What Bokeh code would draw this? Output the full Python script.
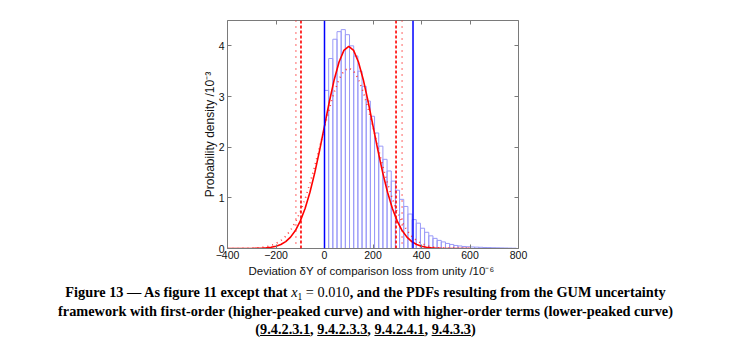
from bokeh.plotting import figure
from bokeh.models import LinearAxis, Span, Div, FixedTicker, CustomLabelingPolicy
from bokeh.layouts import column
from bokeh.embed import file_html
from bokeh.resources import INLINE

# ---------------- data ----------------
# Monte Carlo histogram (probability density /10^-3), bins starting at 0
hist_start = 0.0
hist_width = 17.2
hist_density = [3.12, 3.75, 4.13, 4.28, 4.32, 4.22, 4.00, 3.80, 3.50, 3.20,
                2.91, 2.61, 2.28, 2.02, 1.76, 1.53, 1.33, 1.15, 0.97, 0.83,
                0.68, 0.57, 0.50, 0.40, 0.32, 0.25, 0.20, 0.16, 0.13, 0.10,
                0.08, 0.06, 0.05, 0.04, 0.035, 0.03, 0.027, 0.024, 0.02, 0.018,
                0.016, 0.014, 0.012, 0.01, 0.008, 0.006]

# GUM curves
curve_x = [-400, -380, -360, -340, -320, -300, -280, -260, -240, -220,
           -200, -180, -160, -140, -120, -100, -80, -60, -40, -20,
           0, 20, 40, 60, 80, 100, 120, 140, 160, 180,
           200, 220, 240, 260, 280, 300, 320, 340, 360, 380,
           400, 420, 440, 460, 480, 500, 520, 540, 560, 580, 600]
gum_first_order = [0.000, 0.000, 0.000, 0.000, 0.001, 0.001, 0.003, 0.006, 0.012, 0.024,
                   0.044, 0.079, 0.136, 0.224, 0.355, 0.540, 0.790, 1.109, 1.497, 1.942,
                   2.420, 2.897, 3.332, 3.682, 3.910, 3.989, 3.910, 3.682, 3.332, 2.897,
                   2.420, 1.942, 1.497, 1.109, 0.790, 0.540, 0.355, 0.224, 0.136, 0.079,
                   0.044, 0.024, 0.012, 0.006, 0.003, 0.001, 0.001, 0.000, 0.000, 0.000, 0.000]
gum_higher_order = [0.000, 0.000, 0.001, 0.002, 0.003, 0.006, 0.011, 0.020, 0.036, 0.060,
                    0.099, 0.156, 0.241, 0.359, 0.518, 0.723, 0.979, 1.284, 1.631, 2.006,
                    2.391, 2.760, 3.086, 3.342, 3.506, 3.562, 3.506, 3.342, 3.086, 2.760,
                    2.391, 2.006, 1.631, 1.284, 0.979, 0.723, 0.518, 0.359, 0.241, 0.156,
                    0.099, 0.060, 0.036, 0.020, 0.011, 0.006, 0.003, 0.002, 0.001, 0.000, 0.000]

# 95 % coverage interval endpoints
mc_interval = [0, 365]
gum_first_interval = [-97, 295]
gum_higher_interval = [-118, 320]

x_ticks = [-400, -200, 0, 200, 400, 600, 800]
y_ticks = [0, 1, 2, 3, 4]

x_label = "Deviation \u03b4Y  of comparison loss from unity /10\u207b\u2076"
y_label = "Probability density /10\u207b\u00b3"

caption_lines = [
    "Figure 13 \u2014 As figure 11 except that <span style='font-weight:normal;font-style:italic'>x</span>"
    "<span style='font-weight:normal;font-size:9.5px;position:relative;top:3px'>1</span>"
    "<span style='font-weight:normal'> = 0.010</span>, "
    "and the PDFs resulting from the GUM uncertainty",
    "framework with first-order (higher-peaked curve) and with higher-order terms (lower-peaked curve)",
    "(<u>9.4.2.3.1</u>, <u>9.4.2.3.3</u>, <u>9.4.2.4.1</u>, <u>9.4.3.3</u>)",
]

# ---------------- figure ----------------
p = figure(width=725, height=283, x_range=(-400, 800), y_range=(0, 4.5),
           output_backend="svg", toolbar_location=None,
           min_border_left=227, min_border_right=207,
           min_border_top=20, min_border_bottom=35)
p.xgrid.visible = False
p.ygrid.visible = False
p.outline_line_color = None
p.background_fill_color = "white"
p.border_fill_color = "white"

lefts = [hist_start + i * hist_width for i in range(len(hist_density))]
rights = [l + hist_width for l in lefts]
p.quad(left=lefts, right=rights, top=hist_density, bottom=0,
       fill_color=None, line_color="#9a9af8", line_width=1)

p.line(curve_x, gum_higher_order, line_color="#ff2020", line_width=1.6,
       line_dash="1 4", line_alpha=0.85)
p.line(curve_x, gum_first_order, line_color="#ff0000", line_width=1.6)

for v in mc_interval:
    p.add_layout(Span(location=v, dimension="height", line_color="#0000ff", line_width=1.5))
for v in gum_first_interval:
    p.add_layout(Span(location=v, dimension="height", line_color="#ff0000",
                      line_width=1.6, line_dash="3 2"))
for v in gum_higher_interval:
    p.add_layout(Span(location=v, dimension="height", line_color="#ff2020",
                      line_width=1.6, line_dash="1 5", line_alpha=0.85))

axis_color = "#7a7a7a"
font = "Liberation Sans"


def style_axis(ax, ticks):
    ax.ticker = FixedTicker(ticks=ticks)
    ax.axis_line_color = axis_color
    ax.major_tick_line_color = axis_color
    ax.major_tick_in = 4
    ax.major_tick_out = 0
    ax.minor_tick_line_color = None
    ax.major_label_text_font = font
    ax.major_label_text_color = "#111111"
    ax.major_label_text_font_size = "10.5px"
    ax.axis_label_text_font = font
    ax.axis_label_text_font_style = "normal"
    ax.axis_label_text_color = "#111111"


style_axis(p.xaxis[0], x_ticks)
style_axis(p.yaxis[0], y_ticks)
p.xaxis[0].axis_label = x_label
p.yaxis[0].axis_label = y_label
p.xaxis[0].axis_label_text_font_size = "11.5px"
p.yaxis[0].axis_label_text_font_size = "12px"
p.xaxis[0].major_label_standoff = 2
p.xaxis[0].axis_label_standoff = 3
p.yaxis[0].major_label_standoff = 3
p.yaxis[0].axis_label_standoff = -1

no_labels = "for (const i of indices) { indices.unset(i) }\nreturn indices"
top_axis = LinearAxis(major_label_policy=CustomLabelingPolicy(code=no_labels))
style_axis(top_axis, x_ticks)
top_axis.major_label_standoff = 0
p.add_layout(top_axis, "above")
right_axis = LinearAxis(major_label_policy=CustomLabelingPolicy(code=no_labels))
style_axis(right_axis, y_ticks)
right_axis.major_label_standoff = 0
p.add_layout(right_axis, "right")

line_divs = "".join(
    "<div style='height:18.5px;line-height:18.5px;white-space:nowrap'>" + ln + "</div>"
    for ln in caption_lines)
caption = Div(
    text="<div style=\"font-family:'Liberation Serif',serif;font-weight:bold;font-size:14.3px;"
         "text-align:center;width:731px;color:#000\">" + line_divs + "</div>",
    width=731, margin=(0, 0, 0, 0))

layout = column(p, caption, spacing=0)

open("out.html", "w").write(file_html(layout, INLINE))
